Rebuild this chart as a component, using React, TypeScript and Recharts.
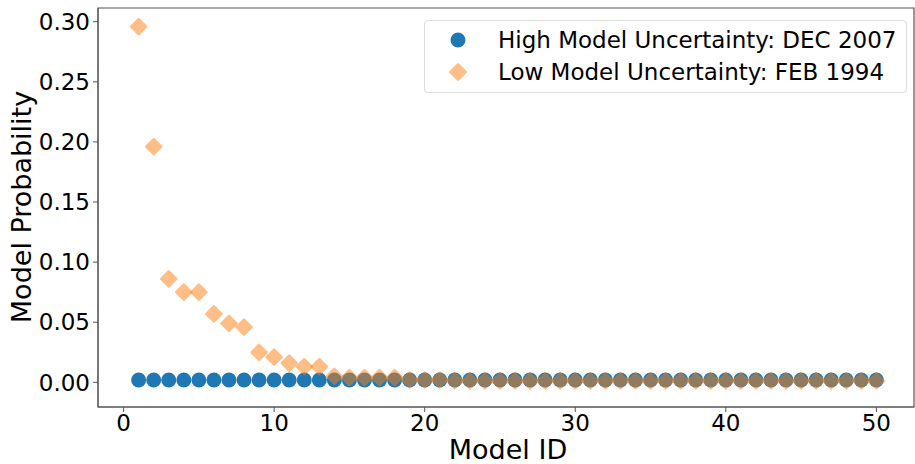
import React from "react";
import {
  ScatterChart,
  Scatter,
  XAxis,
  YAxis,
  ReferenceArea,
} from "recharts";

const modelIds: number[] = Array.from({ length: 50 }, (_, i) => i + 1);

const highDec2007: number[] = [
  0.002, 0.002, 0.002, 0.002, 0.002, 0.002, 0.002, 0.002, 0.002, 0.002,
  0.002, 0.002, 0.002, 0.002, 0.002, 0.002, 0.002, 0.002, 0.002, 0.002,
  0.002, 0.002, 0.002, 0.002, 0.002, 0.002, 0.002, 0.002, 0.002, 0.002,
  0.002, 0.002, 0.002, 0.002, 0.002, 0.002, 0.002, 0.002, 0.002, 0.002,
  0.002, 0.002, 0.002, 0.002, 0.002, 0.002, 0.002, 0.002, 0.002, 0.002,
];

const lowFeb1994: number[] = [
  0.296, 0.196, 0.086, 0.075, 0.075, 0.057, 0.049, 0.046, 0.025, 0.021,
  0.016, 0.013, 0.013, 0.005, 0.004, 0.004, 0.004, 0.004, 0.002, 0.002,
  0.002, 0.0015, 0.0012, 0.0012, 0.0012, 0.0012, 0.0012, 0.0012, 0.0012, 0.0012,
  0.0012, 0.0012, 0.0012, 0.0012, 0.0012, 0.0012, 0.0012, 0.0012, 0.0012, 0.0012,
  0.0012, 0.0012, 0.0012, 0.0012, 0.0012, 0.0012, 0.0012, 0.0012, 0.0012, 0.0012,
];

const seriesNames = [
  "High Model Uncertainty: DEC 2007",
  "Low Model Uncertainty: FEB 1994",
];

const xTicks = [0, 10, 20, 30, 40, 50];
const yTicks = [0, 0.05, 0.1, 0.15, 0.2, 0.25, 0.3];

const X_DOMAIN: [number, number] = [-1.7, 52.5];
const Y_DOMAIN: [number, number] = [-0.0205, 0.3114];

const highData = modelIds.map((id, i) => ({ id, p: highDec2007[i] }));
const lowData = modelIds.map((id, i) => ({ id, p: lowFeb1994[i] }));

const BLUE = "#1f77b4";
const ORANGE = "#ff7f0e";
const FONT = "'DejaVu Sans', sans-serif";
const SPINE = "#555";

const Dot = (props: any) => (
  <circle cx={props.cx} cy={props.cy} r={7.5} fill={BLUE} />
);

const Diamond = (props: any) => {
  const { cx, cy } = props;
  const r = 7.5;
  return (
    <path
      d={`M${cx},${cy - r}L${cx + r},${cy}L${cx},${cy + r}L${cx - r},${cy}Z`}
      fill={ORANGE}
      stroke={ORANGE}
      strokeWidth={2.5}
      strokeLinejoin="round"
      opacity={0.5}
    />
  );
};

function LegendBox() {
  return (
    <div
      style={{
        position: "absolute",
        left: 424,
        top: 20,
        border: "1px solid #ddd",
        borderRadius: 4,
        background: "#fff",
        width: 483,
        height: 73,
        boxSizing: "border-box",
        fontFamily: FONT,
        fontSize: 23,
        color: "#000",
        paddingTop: 3,
      }}
    >
      {seriesNames.map((name, i) => (
        <div
          key={name}
          style={{ display: "flex", alignItems: "center", height: 32 }}
        >
          <svg width={73} height={20} style={{ flex: "none" }}>
            {i === 0 ? (
              <circle cx={33} cy={10} r={7.5} fill={BLUE} />
            ) : (
              <path
                d="M33,2.5L40.5,10L33,17.5L25.5,10Z"
                fill={ORANGE}
                stroke={ORANGE}
                strokeWidth={2.5}
                strokeLinejoin="round"
                opacity={0.5}
              />
            )}
          </svg>
          <span style={{ whiteSpace: "nowrap" }}>{name}</span>
        </div>
      ))}
    </div>
  );
}

export default function App() {
  return (
    <div
      style={{
        position: "absolute",
        left: 0,
        top: 0,
        width: 915,
        height: 464,
        background: "#fff",
      }}
    >
      <ScatterChart
        width={915}
        height={464}
        margin={{ top: 8, right: 1, left: 0, bottom: 0 }}
      >
        <XAxis
          type="number"
          dataKey="id"
          domain={X_DOMAIN}
          ticks={xTicks}
          allowDataOverflow
          height={57}
          stroke={SPINE}
          tickSize={5}
          tickMargin={3}
          tick={{ fill: "#000", fontSize: 23, fontFamily: FONT }}
          label={{
            content: () => (
              <text
                x={508}
                y={459}
                textAnchor="middle"
                fill="#000"
                fontSize={27}
                fontFamily={FONT}
              >
                Model ID
              </text>
            ),
          }}
        />
        <YAxis
          type="number"
          dataKey="p"
          domain={Y_DOMAIN}
          ticks={yTicks}
          allowDataOverflow
          width={98}
          stroke={SPINE}
          tickSize={5}
          tickMargin={3}
          tickFormatter={(v: number) => v.toFixed(2)}
          tick={{ fill: "#000", fontSize: 23, fontFamily: FONT }}
          label={{
            content: () => (
              <text
                x={31}
                y={207}
                transform="rotate(-90 31 207)"
                textAnchor="middle"
                fill="#000"
                fontSize={27}
                fontFamily={FONT}
              >
                Model Probability
              </text>
            ),
          }}
        />
        <ReferenceArea
          x1={X_DOMAIN[0]}
          x2={X_DOMAIN[1]}
          y1={Y_DOMAIN[0]}
          y2={Y_DOMAIN[1]}
          fill="none"
          stroke={SPINE}
          strokeWidth={1.2}
          ifOverflow="visible"
        />
        <Scatter
          name={seriesNames[0]}
          data={highData}
          shape={Dot}
          isAnimationActive={false}
        />
        <Scatter
          name={seriesNames[1]}
          data={lowData}
          shape={Diamond}
          isAnimationActive={false}
        />
      </ScatterChart>
      <LegendBox />
    </div>
  );
}
